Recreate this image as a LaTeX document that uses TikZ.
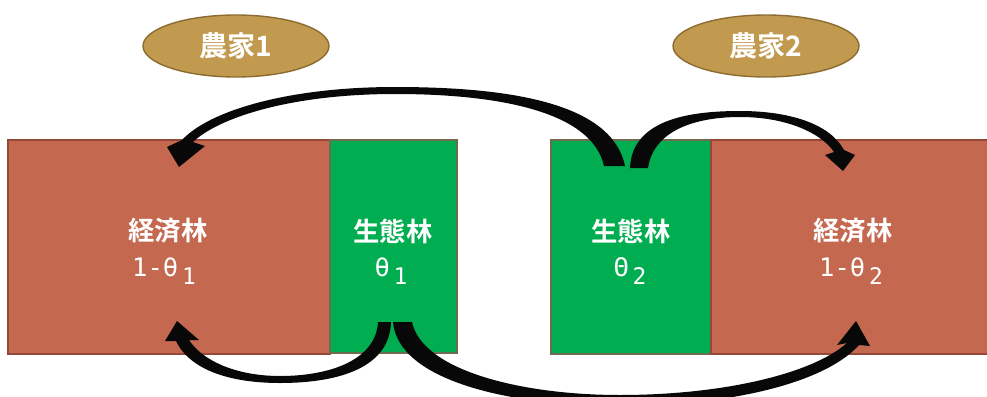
\documentclass[tikz,border=0pt]{standalone}
\usepackage{fontspec}
\newfontfamily\cjkb{Noto Sans CJK JP Bold}
\newfontfamily\monof{DejaVu Sans Mono}
\usetikzlibrary{shapes.geometric,fit}
\definecolor{brownf}{RGB}{196,105,80}
\definecolor{brownd}{RGB}{150,72,55}
\definecolor{greenf}{RGB}{0,173,80}
\definecolor{greend}{RGB}{110,108,80}
\definecolor{goldf}{RGB}{193,154,80}
\definecolor{goldd}{RGB}{140,108,48}
\definecolor{arrowk}{RGB}{8,8,8}
\newcommand{\subn}[1]{\hspace{0.15em}{\fontsize{13}{13}\selectfont\raisebox{-5pt}{#1}}}
\tikzset{
  ecobox/.style={draw=brownd, fill=brownf, line width=0.9pt, inner sep=0pt},
  ecolbox/.style={draw=greend, fill=greenf, line width=0.9pt, inner sep=0pt},
  farmer/.style={ellipse, draw=goldd, fill=goldf, line width=0.8pt, minimum width=3.72cm, minimum height=1.24cm, text=white, font=\cjkb\fontsize{16}{18}\selectfont},
  lbl/.style={text=white, font=\cjkb\fontsize{15}{17}\selectfont, inner sep=0pt},
  val/.style={text=white, font=\monof\fontsize{14.5}{16}\selectfont, inner sep=0pt},
  bigarrow/.style={fill=arrowk, draw=none}
}
\begin{document}
\begin{tikzpicture}[x=0.02cm, y=-0.02cm]
\useasboundingbox (0,0) rectangle (987,396);
% boxes
\node[ecobox, fit={(8,140) (330,354)}] (eco1) {};
\node[ecolbox, fit={(330,140) (457,353)}] (ecl1) {};
\node[ecolbox, fit={(551,140) (711,354)}] (ecl2) {};
\node[ecobox, fit={(711,140) (1000,354)}] (eco2) {};
% farmers
\node[farmer] (f1) at (236,46) {農家1};
\node[farmer] (f2) at (766,46) {農家2};
% labels
\node[lbl] (t1) at (168,231) {経済林};
\node[val, anchor=base] (v1) at (164,276) {1-θ\subn{1}};
\node[lbl] (t2) at (393,231) {生態林};
\node[val, anchor=base] (v2) at (391,276) {θ\subn{1}};
\node[lbl] (t3) at (631,231) {生態林};
\node[val, anchor=base] (v3) at (630,276) {Θ\subn{2}};
\node[lbl] (t4) at (853,231) {経済林};
\node[val, anchor=base] (v4) at (851,276) {1-θ\subn{2}};
% arrow: right green -> left brown (top)
\path[bigarrow] (604,166) .. controls (592,112) and (500,94) .. (395,94)
  .. controls (290,94) and (218,118) .. (193,142) -- (205,146) -- (179,167) -- (167,147) -- (182,140)
  .. controls (210,110) and (290,87) .. (395,87)
  .. controls (510,87) and (612,103) .. (625,166) -- cycle;
% arrow: right green -> right brown (top)
\path[bigarrow] (648,168) .. controls (654,128) and (700,117) .. (740,117)
  .. controls (788,117) and (822,134) .. (834,152) -- (825,155) -- (843,171) -- (855,155) -- (844,150)
  .. controls (830,124) and (790,111) .. (740,111)
  .. controls (688,111) and (632,120) .. (630,168) -- cycle;
% arrow: left green -> left brown (bottom)
\path[bigarrow] (378,322) .. controls (376,360) and (330,376) .. (280,376)
  .. controls (235,376) and (202,360) .. (189,340) -- (199,340) -- (177,321) -- (165,341) -- (176,341)
  .. controls (190,370) and (230,383) .. (280,383)
  .. controls (342,383) and (390,366) .. (391,322) -- cycle;
% arrow: left green -> right brown (bottom)
\path[bigarrow] (412,322) .. controls (422,370) and (520,395) .. (620,395)
  .. controls (722,395) and (812,374) .. (847,343) -- (837,345) -- (856,321) -- (870,346) -- (859,345)
  .. controls (822,386) and (720,406) .. (620,406)
  .. controls (508,406) and (398,380) .. (393,322) -- cycle;
\end{tikzpicture}
\end{document}
